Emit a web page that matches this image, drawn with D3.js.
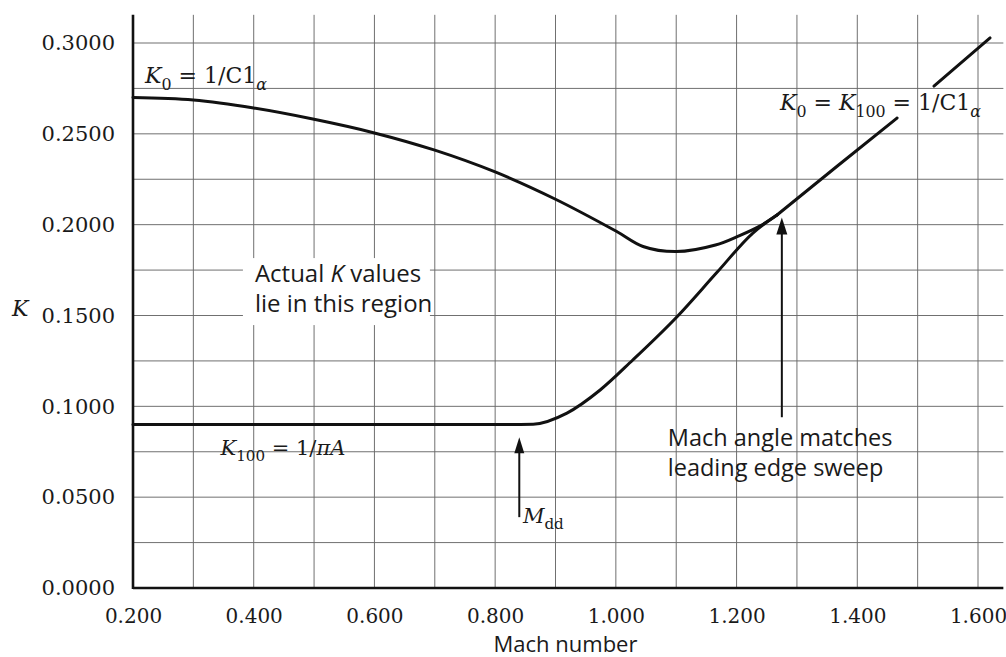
<!DOCTYPE html>
<html>
<head>
<meta charset="utf-8">
<script src="https://cdn.jsdelivr.net/npm/d3@7/dist/d3.min.js"></script>
<style>
  html, body { margin: 0; padding: 0; background: #fff; }
  svg { display: block; }
  .tick text { font-family: "DejaVu Serif", serif; font-size: 20px; fill: #1a1a1a; }
  .y-axis .tick text { font-size: 21px; }
  .math { font-family: "DejaVu Serif", serif; font-size: 22px; fill: #1a1a1a; }
  .note { font-family: "Open Sans", sans-serif; font-size: 24px; fill: #1a1a1a; }
</style>
</head>
<body>
<svg id="chart" width="1006" height="657"></svg>
<script>
// Tick labels on the two axes
const machTicks = [0.2, 0.4, 0.6, 0.8, 1.0, 1.2, 1.4, 1.6];
const kTicks = [0.00, 0.05, 0.10, 0.15, 0.20, 0.25, 0.30];
// Grid spacing
const machGrid = [0.3, 0.4, 0.5, 0.6, 0.7, 0.8, 0.9, 1.0, 1.1, 1.2, 1.3, 1.4, 1.5, 1.6];
const kGrid = [0.025, 0.05, 0.075, 0.1, 0.125, 0.15, 0.175, 0.2, 0.225, 0.25, 0.275, 0.3];

// K0 = 1/CLalpha (zero leading-edge suction)
const machK0 = [0.20, 0.30, 0.40, 0.50, 0.60, 0.70, 0.80, 0.90, 1.00, 1.045, 1.10, 1.165, 1.205, 1.24, 1.267];
const valK0  = [0.2700, 0.2686, 0.2642, 0.2580, 0.2505, 0.2410, 0.2290, 0.2140, 0.1965, 0.1880, 0.1852, 0.1888, 0.1940, 0.1995, 0.2053];

// K100 = 1/(pi A) (full leading-edge suction)
const machK100 = [0.20, 0.50, 0.80, 0.863, 0.919, 0.974, 1.028, 1.101, 1.168, 1.227, 1.267];
const valK100  = [0.0900, 0.0900, 0.0900, 0.0902, 0.0963, 0.1090, 0.1255, 0.1492, 0.1739, 0.1954, 0.2053];

// Above the Mach-angle point both limits coincide: K0 = K100 = 1/CLalpha
const machMerged = [1.267, 1.366, 1.466, 1.527, 1.62];
const valMerged  = [0.2053, 0.2320, 0.2587, 0.2763, 0.3028];
const mergedGap = [1.466, 1.527]; // the line breaks around its label

// Annotation arrows: [mach, kFrom, kTo]
const arrowMdd = [0.840, 0.039, 0.083];
const arrowSweep = [1.275, 0.094, 0.204];

const svg = d3.select("#chart");
const machMax = 1.642, kMax = 0.3155;

const x = d3.scaleLinear().domain([0.2, 1.6]).range([133, 978]);
const y = d3.scaleLinear().domain([0, 0.3]).range([588, 43]);

// grid
const grid = svg.append("g").attr("stroke", "#686868").attr("stroke-width", 0.95);
grid.selectAll("line.v").data(machGrid).join("line").attr("class", "v")
  .attr("x1", d => x(d)).attr("x2", d => x(d))
  .attr("y1", y(0)).attr("y2", y(kMax));
grid.selectAll("line.h").data(kGrid).join("line").attr("class", "h")
  .attr("x1", x(0.2)).attr("x2", x(machMax))
  .attr("y1", d => y(d)).attr("y2", d => y(d));

// axes (labels only; the heavy frame lines are drawn separately)
const xAxis = d3.axisBottom(x).tickValues(machTicks).tickFormat(d3.format(".3f"))
  .tickSize(0).tickPadding(21);
const yAxis = d3.axisLeft(y).tickValues(kTicks).tickFormat(d3.format(".4f"))
  .tickSize(0).tickPadding(18);
svg.append("g").attr("transform", `translate(0,${y(0)})`).call(xAxis)
  .call(g => g.select(".domain").remove());
svg.append("g").attr("class", "y-axis").attr("transform", `translate(${x(0.2)},0)`).call(yAxis)
  .call(g => g.select(".domain").remove());

svg.append("line").attr("x1", x(0.2)).attr("x2", x(0.2))
  .attr("y1", y(0) + 1).attr("y2", y(kMax))
  .attr("stroke", "#111").attr("stroke-width", 2.6);
svg.append("line").attr("x1", x(0.2)).attr("x2", x(machMax))
  .attr("y1", y(0)).attr("y2", y(0))
  .attr("stroke", "#111").attr("stroke-width", 2.6);

// axis titles
svg.append("text").attr("class", "note").attr("x", (x(0.8) + x(1.0)) / 2 + 10).attr("y", 652)
  .attr("text-anchor", "middle").style("font-size", "22px").text("Mach number");
svg.append("text").attr("class", "math").attr("x", 12).attr("y", 316)
  .style("font-style", "italic").text("K");

// white panel behind the region note
const notePanel = svg.append("rect").attr("fill", "#fff");

// curves
const smooth = d3.line().x(d => x(d[0])).y(d => y(d[1])).curve(d3.curveCatmullRom.alpha(0.5));
const monotone = d3.line().x(d => x(d[0])).y(d => y(d[1])).curve(d3.curveMonotoneX);
const curveStyle = p => p.attr("fill", "none").attr("stroke", "#111")
  .attr("stroke-width", 3).attr("stroke-linejoin", "round").attr("stroke-linecap", "round");

svg.append("path").datum(d3.zip(machK0, valK0)).attr("d", smooth).call(curveStyle);
svg.append("path").datum(d3.zip(machK100, valK100)).attr("d", monotone).call(curveStyle);
const merged = d3.zip(machMerged, valMerged);
svg.append("path").datum(merged.filter(d => d[0] <= mergedGap[0])).attr("d", monotone).call(curveStyle);
svg.append("path").datum(merged.filter(d => d[0] >= mergedGap[1])).attr("d", monotone).call(curveStyle);

// arrows
function arrow(a, head, halfW) {
  const ax = x(a[0]), y0 = y(a[1]), y1 = y(a[2]);
  svg.append("line").attr("x1", ax).attr("x2", ax).attr("y1", y0).attr("y2", y1 + head - 2)
    .attr("stroke", "#111").attr("stroke-width", 2);
  svg.append("path").attr("fill", "#111")
    .attr("d", `M${ax},${y1} L${ax - halfW},${y1 + head} L${ax + halfW},${y1 + head} Z`);
}
arrow(arrowMdd, 16, 5);
arrow(arrowSweep, 17, 5.5);

// math labels built from runs: {t, it (italic), sub (subscript)}
function mathLabel(px, py, runs, size) {
  const t = svg.append("text").attr("class", "math").attr("x", px).attr("y", py)
    .style("font-size", size + "px");
  let inSub = false;
  runs.forEach(r => {
    const s = t.append("tspan").text(r.t);
    if (r.it) s.style("font-style", "italic");
    if (r.sub && !inSub) { s.attr("dy", size * 0.3); inSub = true; }
    else if (!r.sub && inSub) { s.attr("dy", -size * 0.3); inSub = false; }
    if (r.sub) s.style("font-size", (size * 0.72) + "px");
  });
  return t;
}

mathLabel(x(0.22), y(0.278), [
  {t: "K", it: true}, {t: "0", sub: true}, {t: " = 1/C1"}, {t: "α", it: true, sub: true}
], 22);
mathLabel(x(0.345), y(0.0732), [
  {t: "K", it: true}, {t: "100", sub: true}, {t: " = 1/"}, {t: "πA", it: true}
], 21);
mathLabel(x(1.272), y(0.2631), [
  {t: "K", it: true}, {t: "0", sub: true}, {t: " = "}, {t: "K", it: true}, {t: "100", sub: true},
  {t: " = 1/C1"}, {t: "α", it: true, sub: true}
], 22);
mathLabel(x(0.846), y(0.0358), [
  {t: "M", it: true}, {t: "dd", sub: true}
], 21);

// two-line notes, one text element each
function note(px, py, lines, gap, size) {
  const t = svg.append("text").attr("class", "note").attr("x", px).attr("y", py)
    .style("font-size", size + "px");
  lines.forEach((runs, i) => {
    runs.forEach((r, j) => {
      const s = t.append("tspan").text(r.t);
      if (j === 0 && i > 0) s.attr("x", px).attr("dy", gap);
      if (r.it) s.style("font-style", "italic");
    });
  });
  return t;
}

note(x(0.402), y(0.1684), [
  [{t: "Actual "}, {t: "K", it: true}, {t: " values"}],
  [{t: "lie in this region"}]
], 30, 24);
notePanel.attr("x", x(0.402) - 12).attr("y", y(0.1684) - 24)
  .attr("width", 187).attr("height", 67);

note(x(1.086), y(0.0776) - 1, [
  [{t: "Mach angle matches"}],
  [{t: "leading edge sweep"}]
], 30, 23.5);
</script>
</body>
</html>
